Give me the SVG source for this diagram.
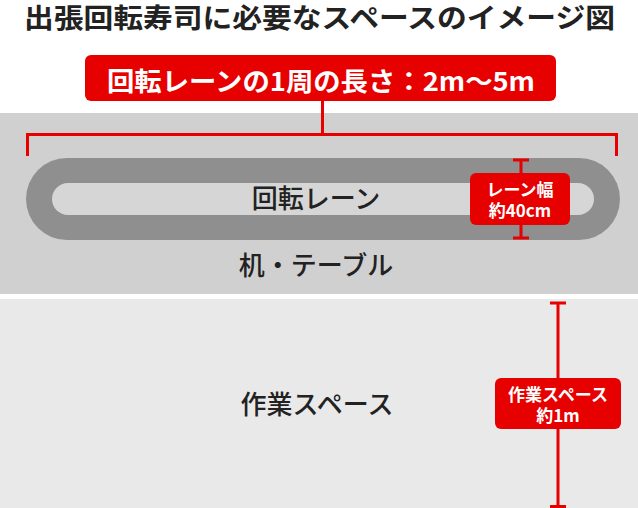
<svg xmlns="http://www.w3.org/2000/svg" width="638" height="508" viewBox="0 0 638 508">
<style>
text{font-family:"Noto Sans CJK JP","Noto Sans",sans-serif;}
.dark{fill:#222;}
.title{font-size:27.5px;font-weight:bold;}
.lbl{font-size:26px;font-weight:500;}
.wt{fill:#fff;font-weight:bold;}
.red{fill:#e60000;}
.rl{stroke:#e60000;stroke-width:3;fill:none;}
</style>
<rect x="0" y="0" width="638" height="508" fill="#fff"/>
<g id="table">
<rect x="0" y="113" width="638" height="181" fill="#d0d0d0"/>
<text class="dark lbl" x="316" y="275" text-anchor="middle">机・テーブル</text>
</g>
<g id="workspace">
<rect x="0" y="299" width="638" height="209" fill="#e9e9e9"/>
<text class="dark lbl" x="317" y="414" text-anchor="middle">作業スペース</text>
</g>
<g id="title">
<text class="dark title" x="319.5" y="28" text-anchor="middle" textLength="591" lengthAdjust="spacingAndGlyphs">出張回転寿司に必要なスペースのイメージ図</text>
</g>
<g id="lane">
<rect x="26" y="158" width="594" height="82" rx="41" fill="#8f8f8f"/>
<rect x="52" y="183" width="542" height="32" rx="16" fill="#d6d6d6"/>
<text class="dark lbl" x="316" y="208" text-anchor="middle">回転レーン</text>
</g>
<g id="connectors">
<path class="rl" d="M322.5 101V134.5M27.5 156V134.5H616.5V156"/>
<path class="rl" d="M521 160V238M513 160H529M513 238H529"/>
<path class="rl" d="M558 303V507M550 303H566M550 506.5H566"/>
</g>
<g id="length-label">
<rect class="red" x="85" y="55" width="471" height="46" rx="6"/>
<text class="wt" x="321" y="91" font-size="26" text-anchor="middle" textLength="428" lengthAdjust="spacingAndGlyphs">回転レーンの1周の長さ：2m〜5m</text>
</g>
<g id="lane-width-label">
<rect class="red" x="470" y="173" width="100" height="52" rx="6"/>
<text class="wt" x="520" y="196" font-size="17" text-anchor="middle">レーン幅</text>
<text class="wt" x="520" y="217" font-size="17" text-anchor="middle">約40cm</text>
</g>
<g id="workspace-label">
<rect class="red" x="495" y="378" width="126" height="51" rx="6"/>
<text class="wt" x="558" y="401" font-size="17" text-anchor="middle">作業スペース</text>
<text class="wt" x="558" y="422" font-size="17" text-anchor="middle">約1m</text>
</g>
</svg>
